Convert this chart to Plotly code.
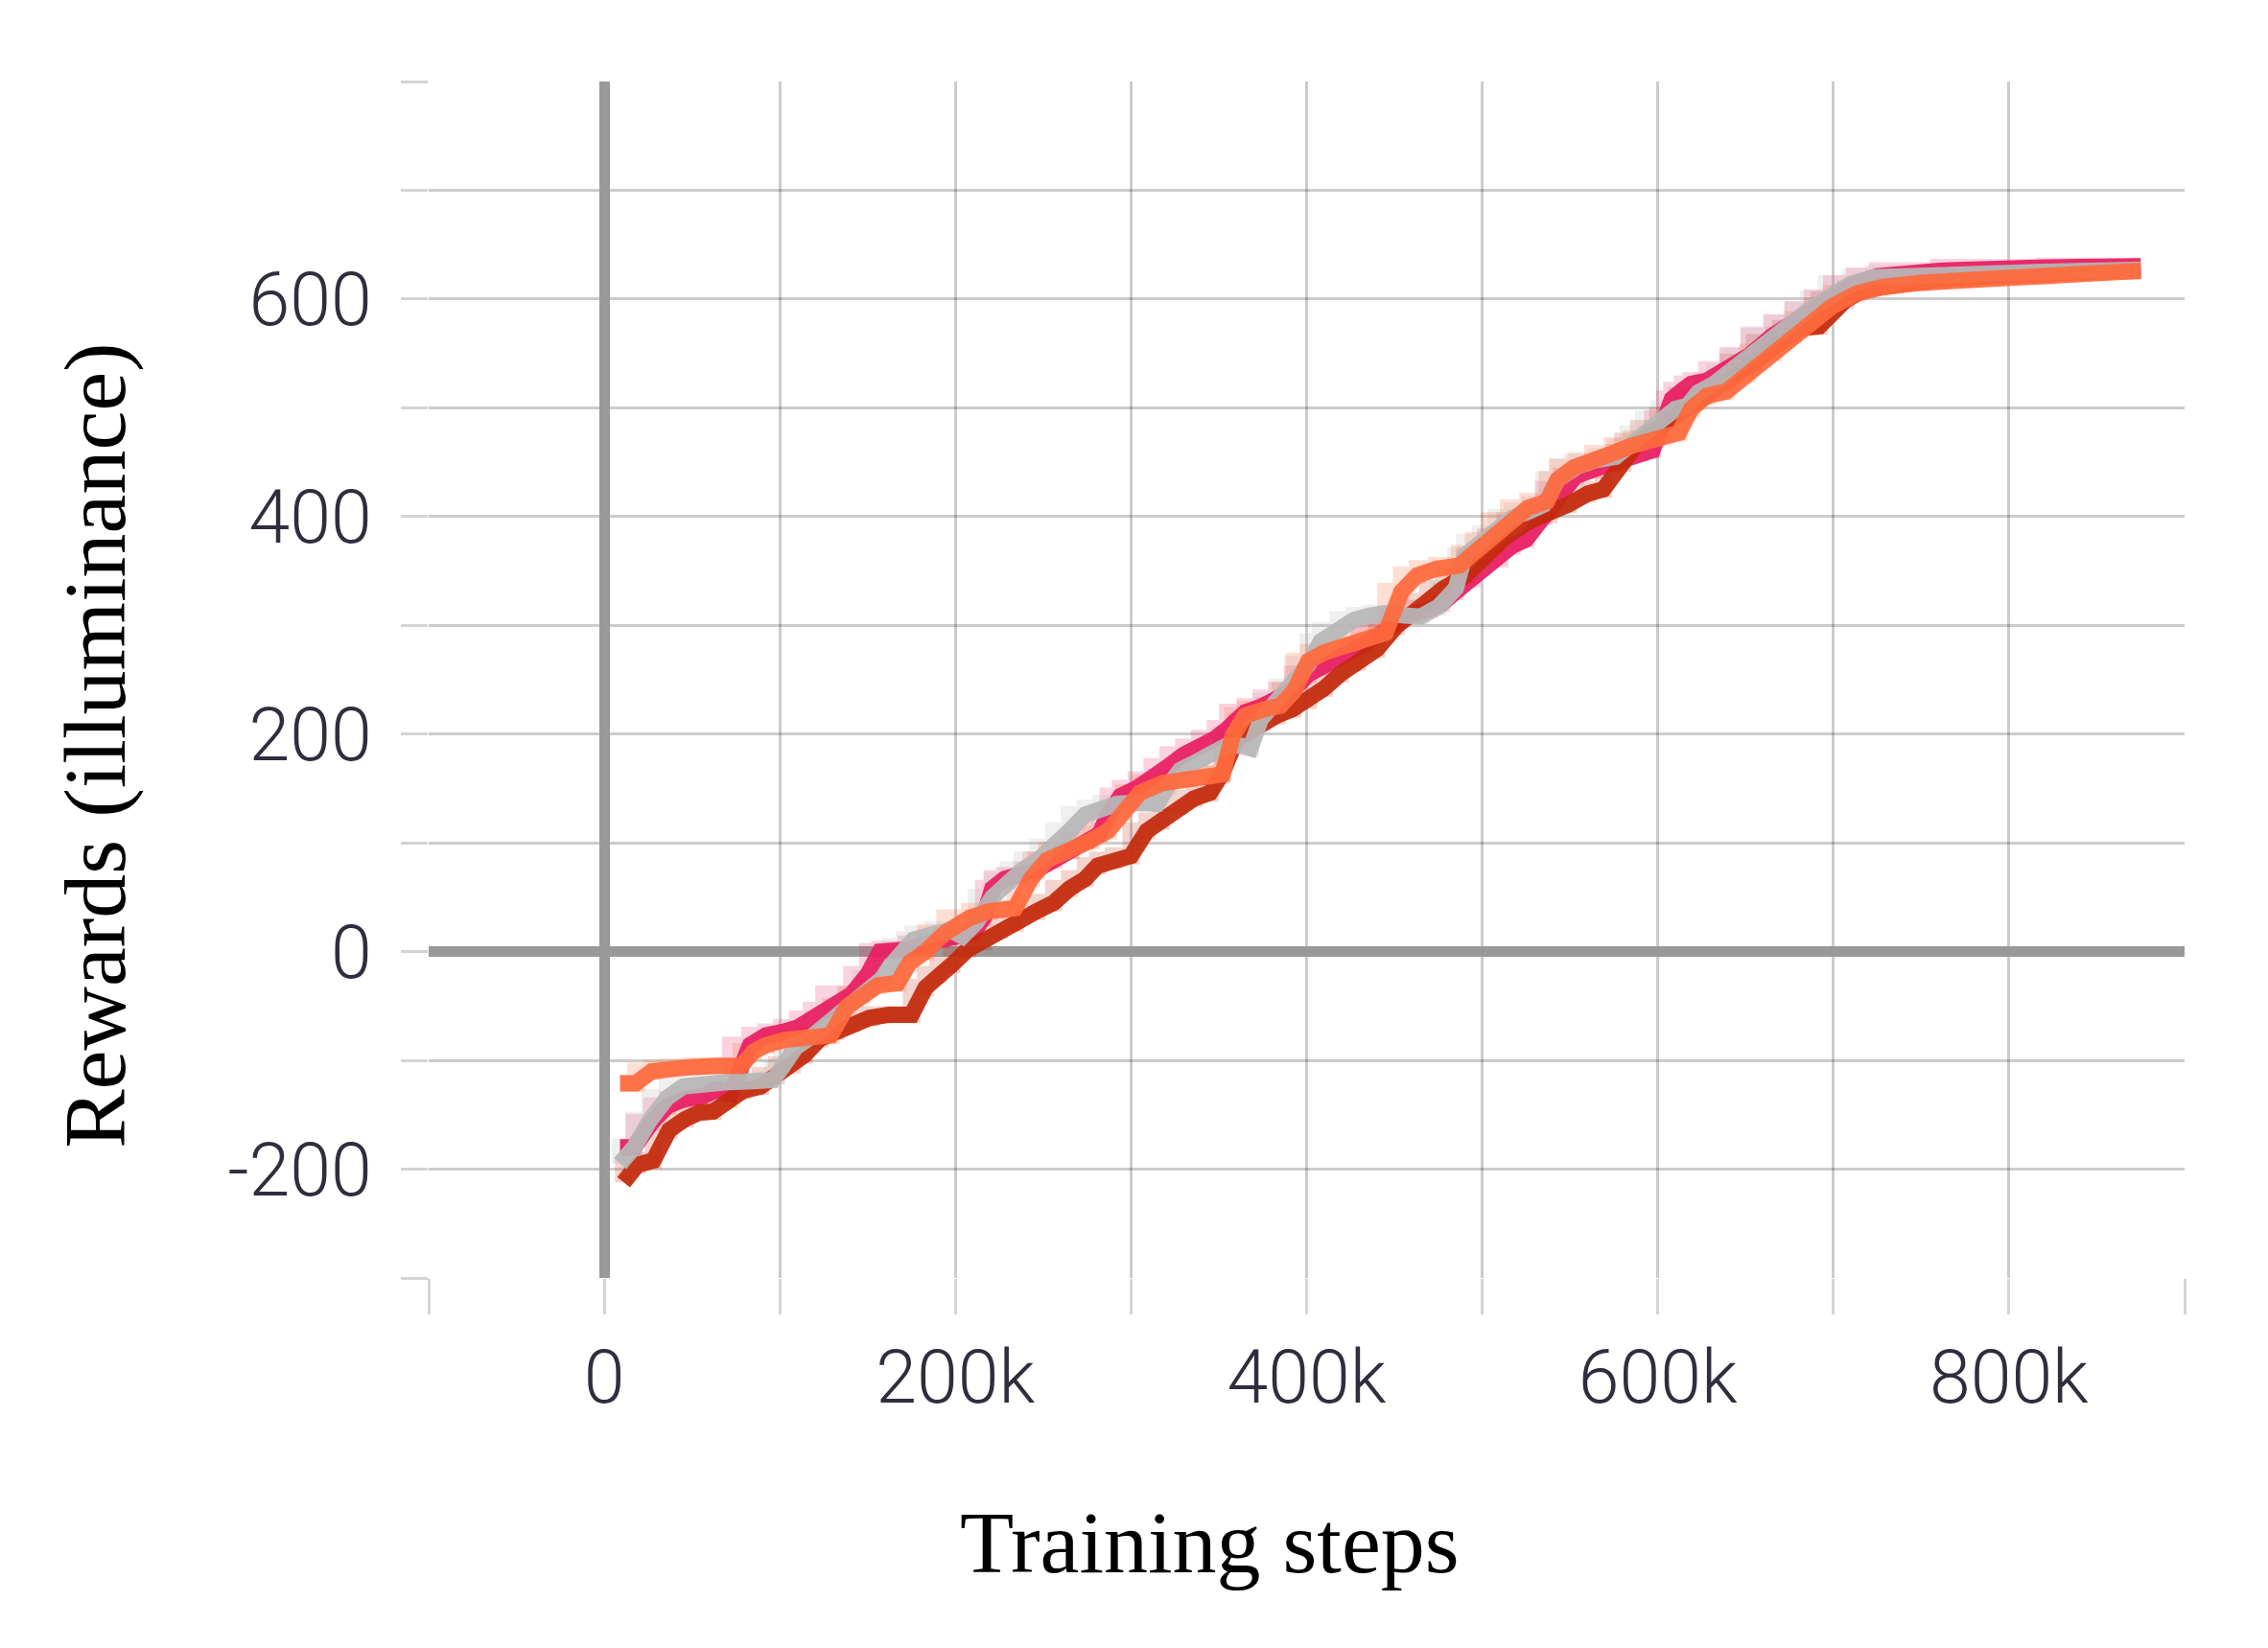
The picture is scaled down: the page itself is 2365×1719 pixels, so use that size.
import plotly.graph_objects as go

# ---- data (x in thousands of training steps, y = reward) ----
orange_x = [9,18,27,36,50,65,78,85,92,103,114,129,138,147,156,167,174,183,194,208,219,234,243,252,266,277,287,296,305,318,333,347,352,358,365,376,385,393,401,410,419,430,445,454,463,474,487,495,504,515,526,537,543,552,563,574,585,596,605,612,619,628,639,651,666,677,688,699,713,728,750,777,822,875]
orange_y = [-121,-121,-110,-107,-106,-105,-105,-92,-86,-81,-79,-77,-51,-39,-31,-29,-10,0,17,31,37,40,67,84,93,102,111,128,146,155,159,161,163,199,217,223,226,240,267,275,280,286,293,331,346,352,355,366,378,396,408,414,434,445,450,458,465,471,476,477,499,511,515,531,551,567,581,593,605,611,615,618,621,626]

darkred_x = [11,19,28,37,46,54,62,71,79,89,98,107,114,123,132,141,151,162,175,183,190,198,207,216,225,234,246,256,265,274,281,290,300,309,317,327,336,345,352,360,374,383,392,401,410,419,429,440,451,460,469,478,490,502,513,527,538,549,560,569,580,589,600,611,626,640,655,670,681,692,707,718,736,760,800,875]
darkred_y = [-212,-196,-192,-164,-154,-148,-147,-136,-128,-124,-114,-104,-95,-80,-73,-66,-61,-58,-58,-33,-21,-12,2,9,20,26,37,45,58,67,79,84,88,111,120,134,141,146,164,195,211,217,223,231,242,255,266,278,299,311,322,334,345,364,381,396,402,411,421,425,449,469,481,493,511,522,542,560,573,575,599,609,614,618,622,627]

gray_x = [9,17,26,36,45,56,70,85,96,101,109,119,130,137,146,158,163,171,176,187,197,204,212,221,230,238,247,256,265,274,283,292,303,315,321,328,339,346,355,364,368,374,383,392,401,408,418,427,436,445,456,465,475,485,490,499,508,517,527,535,543,554,565,576,583,592,601,610,617,623,632,641,652,665,677,686,696,710,723,760,820,875]
gray_y = [-195,-180,-155,-134,-124,-121,-120,-119,-118,-107,-88,-77,-62,-51,-40,-25,-13,5,11,16,20,14,27,50,65,75,84,96,111,126,132,136,137,136,152,167,176,181,190,189,187,214,230,243,264,285,295,305,309,311,309,308,317,334,364,376,384,399,405,411,434,446,452,455,464,476,490,499,502,514,522,533,547,567,578,590,600,614,620,623,625,627]

pink_x = [9,17,27,36,45,56,64,72,83,92,101,110,118,125,141,150,157,172,181,192,201,210,216,221,228,238,246,256,265,274,282,287,294,303,312,321,330,339,348,355,365,374,383,392,401,410,419,430,445,460,470,477,485,494,510,517,525,535,545,553,563,575,590,597,604,608,614,619,628,640,652,665,677,688,699,712,725,760,820,875]
pink_y = [-180,-180,-157,-142,-136,-133,-127,-131,-86,-77,-74,-70,-62,-54,-39,-21,0,2,7,11,14,17,31,58,67,70,75,84,93,102,108,126,143,150,158,170,181,188,196,205,220,225,233,240,255,262,270,280,295,310,315,320,331,343,361,373,379,400,425,437,443,450,459,461,490,508,516,522,525,535,548,566,578,590,601,614,621,626,629,630]

x_tick_vals = [-100, 0, 100, 200, 300, 400, 500, 600, 700, 800, 900]
x_tick_text = ["", "0", "", "200k", "", "400k", "", "600k", "", "800k", ""]
y_tick_vals = [-300, -200, -100, 0, 100, 200, 300, 400, 500, 600, 700, 800]
y_tick_text = ["", "-200", "", "0", "", "200", "", "400", "", "600", "", ""]

series = [
    (pink_x, pink_y, "#e91e63", "rgba(233,30,99,0.2)"),
    (darkred_x, darkred_y, "#c42a0c", "rgba(198,42,10,0.2)"),
    (gray_x, gray_y, "#b8b8b8", "rgba(184,184,184,0.22)"),
    (orange_x, orange_y, "#ff6a3d", "rgba(255,106,61,0.22)"),
]

fig = go.Figure()
for xs, ys, col, light in series:
    fig.add_trace(go.Scatter(
        x=[v * 1000 for v in xs], y=ys, mode="lines",
        line=dict(color=light, width=18, shape="vh"),
        hoverinfo="skip", showlegend=False))
for xs, ys, col, light in series:
    fig.add_trace(go.Scatter(
        x=[v * 1000 for v in xs], y=ys, mode="lines",
        line=dict(color=col, width=17), opacity=0.93,
        showlegend=False))

tick_font = dict(family="Roboto, Lato, Open Sans, sans-serif", size=77,
                 color="#2e2e3e", weight=300)
grid = "rgba(0,0,0,0.2)"

fig.update_xaxes(
    range=[-100000, 900000],
    tickmode="array", tickvals=[v * 1000 for v in x_tick_vals], ticktext=x_tick_text,
    showgrid=True, gridcolor=grid, gridwidth=2.5,
    zeroline=True, zerolinecolor="#999999", zerolinewidth=11,
    ticks="outside", ticklen=37, tickwidth=2.5, tickcolor="#d4d4d4",
    showline=False, tickfont=tick_font, ticklabelstandoff=0,
)
fig.update_yaxes(
    range=[-300, 800],
    tickmode="array", tickvals=y_tick_vals, ticktext=y_tick_text,
    showgrid=True, gridcolor=grid, gridwidth=2.5,
    zeroline=True, zerolinecolor="#999999", zerolinewidth=11,
    ticks="outside", ticklen=28, tickwidth=2.5, tickcolor="#d4d4d4",
    showline=False, tickfont=tick_font, ticklabelstandoff=15,
)

title_font = dict(family="Liberation Serif, Times New Roman, serif", size=92, color="#000000")
fig.update_layout(
    width=2357, height=1711,
    margin=dict(l=439, r=87, t=77, b=386),
    paper_bgcolor="white", plot_bgcolor="white",
    showlegend=False,
    annotations=[
        dict(text="Training steps", xref="paper", yref="paper", x=0.445, y=-0.221,
             xanchor="center", yanchor="middle", showarrow=False, font=title_font),
        dict(text="Rewards (illuminance)", xref="paper", yref="paper", x=-0.19, y=0.445,
             xanchor="center", yanchor="middle", showarrow=False, textangle=-90,
             font=title_font),
    ],
)

fig.write_html("out.html")
